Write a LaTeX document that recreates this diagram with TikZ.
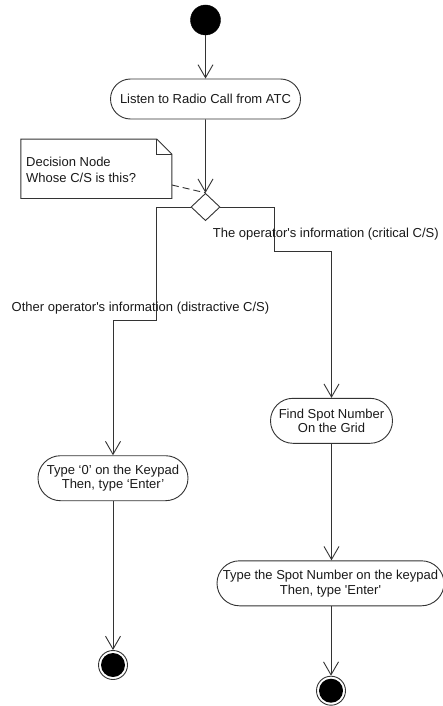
\documentclass[tikz,border=0pt]{standalone}
\usepackage{fontspec}
\setmainfont{Liberation Sans}[Ligatures=TeXOff]
\usetikzlibrary{arrows.meta,shapes.misc,shapes.geometric}
\definecolor{lc}{HTML}{333333}
\definecolor{tc}{HTML}{1A1A1A}
\begin{document}
\begin{tikzpicture}[x=1pt,y=-1pt,
  line/.style={draw=lc, line width=0.9pt},
  flow/.style={line, -{Straight Barb[length=13pt,width=15pt]}},
  action/.style={rounded rectangle, draw=lc, line width=0.9pt, fill=white, inner sep=0pt,
    align=center, text=tc, font=\fontsize{13}{14.7}\selectfont},
  decision/.style={diamond, draw=lc, line width=0.9pt, fill=white, inner sep=0pt,
    minimum width=29pt, minimum height=27.4pt},
  startnode/.style={circle, fill=black, draw=black, inner sep=0pt, minimum size=30pt},
  endnode/.style={circle, draw=lc, line width=0.9pt, fill=white, inner sep=0pt, minimum size=29pt,
    path picture={\fill[black] (path picture bounding box.center) circle (12pt);}},
  lbl/.style={text=tc, inner sep=0pt, font=\fontsize{13}{15}\selectfont},
  notebox/.style={inner sep=0pt, minimum width=150.7pt, minimum height=59pt}
]
\useasboundingbox (0,0) rectangle (442,706);
\fill[white] (0,0) rectangle (442,706);

% nodes
\node[startnode] (start) at (205.5,20) {};
\node[action, minimum width=190pt, minimum height=40pt] (act1) at (205.5,99) {Listen to Radio Call from ATC};
\node[decision] (dec) at (205.5,207) {};
\node[notebox] (note) at (96.35,168.8) {};
\node[action, minimum width=122pt, minimum height=45pt] (find) at (331.5,420.8) {Find Spot Number\\On the Grid};
\node[action, minimum width=150pt, minimum height=45pt] (type0) at (113,478.2) {Type ‘0’ on the Keypad\\Then, type ‘Enter’};
\node[action, minimum width=227pt, minimum height=45pt] (type2) at (330.5,583.3) {Type the Spot Number on the keypad\\Then, type 'Enter'};
\node[endnode] (endL) at (113,665) {};
\node[endnode] (endR) at (331,690.7) {};

% note shape
\draw[line, fill=white] (note.north west) -- ([xshift=-15pt]note.north east)
  -- ([yshift=-15pt]note.north east) -- (note.south east) -- (note.south west) -- cycle;
\draw[line] ([xshift=-15pt]note.north east) -- ([xshift=-15pt,yshift=-15pt]note.north east)
  -- ([yshift=-15pt]note.north east);
\node[lbl, anchor=west, align=left, font=\fontsize{13}{16}\selectfont] (notetxt) at (26,169.5)
  {Decision Node\\Whose C/S is this?};

% connectors
\draw[flow] (start) -- (act1);
\draw[flow] (act1) -- (dec.north);
\draw[line, dash pattern=on 7pt off 4pt] (note.east |- 0,185) -- (dec.north);

\coordinate (lb) at (156,320.7);
\coordinate (rb) at (274,251.7);
\draw[flow] (dec.west) -| (lb) -| (type0.north);
\draw[flow] (dec.east) -| (rb) -| (find.north);
\draw[flow] (find.south) -- (find.south |- type2.north);
\draw[flow] (type0.south) -- (endL.north);
\draw[flow] (type2.south -| endR) -- (endR.north);

% branch labels
\node[lbl] (lblL) at (140.5,308.3) {Other operator's information (distractive C/S)};
\node[lbl] (lblR) at (325.8,234) {The operator's information (critical C/S)};
\end{tikzpicture}
\end{document}
